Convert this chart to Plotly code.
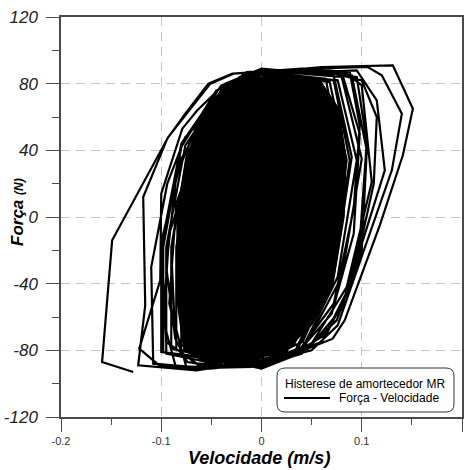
import plotly.graph_objects as go

# Force-velocity cycles of the MR damper: velocity (m/s), force (N)
# outer / irregular cycles
v01 = [-0.128, -0.159, -0.149, -0.093, -0.076, -0.051, -0.028, 0.040, 0.088, 0.098, 0.092, 0.072, 0.040, 0.000]
f01 = [-93, -87, -14, 48, 61, 80, 86, 89, 87, 55, 5, -52, -78, -88]
v02 = [-0.085, -0.098, -0.092, -0.070, -0.040, -0.012, 0.060, 0.131, 0.151, 0.141, 0.118, 0.083, 0.071, 0.021, -0.030]
f02 = [-91, -62, -10, 32, 70, 86, 90, 91, 65, 37, -5, -62, -73, -85, -90]
v03 = [-0.075, -0.092, -0.085, -0.055, -0.022, 0.050, 0.106, 0.120, 0.140, 0.130, 0.092, 0.076, 0.050, 0.005, -0.050]
f03 = [-90, -52, 8, 60, 84, 89, 90, 85, 62, 28, -38, -65, -80, -87, -91]
v04 = [-0.065, -0.123, -0.116, -0.118, -0.094, -0.076, -0.053, -0.029, 0.030, 0.085, 0.100, 0.110, 0.085, 0.050, 0.000]
f04 = [-92, -89, -53, 12, 47, 62, 80, 86, 88, 86, 79, 21, -42, -76, -88]
v05 = [-0.060, -0.102, -0.122, -0.101, -0.100, -0.079, -0.064, -0.040, 0.020, 0.095, 0.115, 0.123, 0.085, 0.060, 0.010]
f05 = [-91, -89, -79, -38, 14, 53, 64, 78, 86, 88, 70, 28, -45, -75, -86]
v06 = [-0.040, -0.074, -0.086, -0.090, -0.075, -0.050, -0.015, 0.050, 0.090, 0.105, 0.100, 0.075, 0.040, 0.000]
f06 = [-90, -87, -73, -20, 35, 70, 87, 89, 85, 40, -20, -62, -82, -89]
v07 = [-0.050, -0.108, -0.110, -0.094, -0.076, -0.053, -0.029, -0.015, 0.060, 0.095, 0.105, 0.098, 0.080, 0.045, 0.000]
f07 = [-91, -88, -30, 20, 48, 62, 80, 86, 87, 84, 45, -15, -55, -80, -89]
v08 = [-0.030, -0.074, -0.086, -0.095, -0.085, -0.062, -0.035, 0.020, 0.080, 0.098, 0.092, 0.070, 0.035, -0.005]
f08 = [-90, -87, -73, -30, 25, 58, 80, 88, 87, 50, -10, -58, -82, -89]
v09 = [-0.060, -0.095, -0.100, -0.080, -0.045, -0.010, 0.060, 0.100, 0.115, 0.112, 0.090, 0.065, 0.030, -0.010]
f09 = [-90, -75, -15, 35, 72, 86, 88, 82, 60, 20, -40, -70, -83, -89]

# steady cycles, largest to smallest
v11 = [-0.100, -0.100, -0.080, -0.040, 0, 0.080, 0.100, 0.080, 0.040, 0]
f11 = [-81, -18, 44, 79, 88, 84, 35, -36, -81, -90]
v12 = [-0.095, -0.095, -0.076, -0.038, 0, 0.076, 0.095, 0.076, 0.038, 0]
f12 = [-82, -18, 43, 77, 86, 82, 34, -36, -82, -91]
v13 = [-0.090, -0.090, -0.072, -0.036, 0, 0.072, 0.090, 0.072, 0.036, 0]
f13 = [-79, -18, 45, 80, 89, 85, 36, -35, -79, -88]
v14 = [-0.085, -0.085, -0.068, -0.034, 0, 0.068, 0.085, 0.068, 0.034, 0]
f14 = [-80, -18, 43, 77, 85, 81, 34, -36, -80, -89]
v15 = [-0.080, -0.080, -0.064, -0.032, 0, 0.064, 0.080, 0.064, 0.032, 0]
f15 = [-77, -17, 44, 78, 87, 83, 35, -34, -77, -86]
v16 = [-0.075, -0.075, -0.060, -0.030, 0, 0.060, 0.075, 0.060, 0.030, 0]
f16 = [-78, -17, 42, 75, 83, 79, 33, -35, -78, -87]
v17 = [-0.070, -0.070, -0.056, -0.028, 0, 0.056, 0.070, 0.056, 0.028, 0]
f17 = [-76, -17, 41, 73, 81, 77, 32, -34, -76, -84]
v18 = [-0.065, -0.065, -0.052, -0.026, 0, 0.052, 0.065, 0.052, 0.026, 0]
f18 = [-74, -16, 39, 70, 78, 74, 31, -33, -74, -82]
v19 = [-0.060, -0.060, -0.048, -0.024, 0, 0.048, 0.060, 0.048, 0.024, 0]
f19 = [-71, -16, 38, 68, 75, 71, 30, -32, -71, -79]
v20 = [-0.055, -0.055, -0.044, -0.022, 0, 0.044, 0.055, 0.044, 0.022, 0]
f20 = [-68, -15, 36, 65, 72, 68, 29, -30, -68, -76]
v21 = [-0.050, -0.050, -0.040, -0.020, 0, 0.040, 0.050, 0.040, 0.020, 0]
f21 = [-66, -15, 35, 62, 69, 66, 28, -29, -66, -73]
v22 = [-0.045, -0.045, -0.036, -0.018, 0, 0.036, 0.045, 0.036, 0.018, 0]
f22 = [-62, -14, 33, 59, 65, 62, 26, -28, -62, -69]
v23 = [-0.040, -0.040, -0.032, -0.016, 0, 0.032, 0.040, 0.032, 0.016, 0]
f23 = [-59, -13, 31, 55, 61, 58, 24, -26, -59, -65]
v24 = [-0.035, -0.035, -0.028, -0.014, 0, 0.028, 0.035, 0.028, 0.014, 0]
f24 = [-55, -12, 29, 51, 57, 54, 23, -24, -55, -61]
v25 = [-0.030, -0.030, -0.024, -0.012, 0, 0.024, 0.030, 0.024, 0.012, 0]
f25 = [-51, -11, 27, 48, 53, 50, 21, -23, -51, -57]
v26 = [-0.025, -0.025, -0.020, -0.010, 0, 0.020, 0.025, 0.020, 0.010, 0]
f26 = [-47, -10, 24, 43, 48, 46, 19, -21, -47, -52]
v27 = [-0.020, -0.020, -0.016, -0.008, 0, 0.016, 0.020, 0.016, 0.008, 0]
f27 = [-42, -9, 22, 39, 43, 41, 17, -19, -42, -47]
v28 = [-0.015, -0.015, -0.012, -0.006, 0, 0.012, 0.015, 0.012, 0.006, 0]
f28 = [-37, -8, 19, 33, 37, 35, 15, -16, -37, -41]
v29 = [-0.010, -0.010, -0.008, -0.004, 0, 0.008, 0.010, 0.008, 0.004, 0]
f29 = [-31, -7, 15, 27, 30, 29, 12, -14, -31, -34]
v30 = [-0.005, -0.005, -0.004, -0.002, 0, 0.004, 0.005, 0.004, 0.002, 0]
f30 = [-23, -5, 11, 20, 22, 21, 9, -10, -23, -25]

# steady cycles with a small velocity offset
v31 = [-0.098, -0.098, -0.080, -0.045, -0.010, 0.060, 0.078, 0.060, 0.025, -0.010]
f31 = [-81, -18, 42, 76, 84, 80, 34, -36, -81, -90]
v32 = [-0.068, -0.068, -0.052, -0.021, 0.010, 0.072, 0.088, 0.072, 0.041, 0.010]
f32 = [-75, -17, 43, 77, 86, 82, 34, -33, -75, -83]
v33 = [-0.073, -0.073, -0.059, -0.032, -0.005, 0.049, 0.063, 0.049, 0.022, -0.005]
f33 = [-77, -17, 40, 72, 80, 76, 32, -34, -77, -86]
v34 = [-0.053, -0.053, -0.041, -0.018, 0.005, 0.051, 0.063, 0.051, 0.028, 0.005]
f34 = [-68, -15, 38, 68, 76, 72, 30, -30, -68, -75]
v35 = [-0.053, -0.053, -0.043, -0.024, -0.005, 0.033, 0.043, 0.033, 0.014, -0.005]
f35 = [-65, -14, 34, 60, 67, 64, 27, -29, -65, -72]
v36 = [-0.033, -0.033, -0.025, -0.010, 0.005, 0.035, 0.043, 0.035, 0.020, 0.005]
f36 = [-56, -12, 30, 54, 60, 57, 24, -25, -56, -62]
v37 = [-0.028, -0.028, -0.022, -0.011, 0, 0.022, 0.028, 0.022, 0.011, 0]
f37 = [-50, -11, 26, 46, 51, 48, 20, -22, -50, -55]
v38 = [-0.018, -0.018, -0.014, -0.007, 0, 0.014, 0.018, 0.014, 0.007, 0]
f38 = [-40, -9, 20, 36, 40, 38, 16, -18, -40, -44]
v39 = [-0.012, -0.012, -0.010, -0.005, 0, 0.010, 0.012, 0.010, 0.005, 0]
f39 = [-33, -7, 17, 31, 34, 32, 14, -15, -33, -37]
v40 = [-0.008, -0.008, -0.006, -0.003, 0, 0.006, 0.008, 0.006, 0.003, 0]
f40 = [-27, -6, 13, 23, 26, 25, 10, -12, -27, -30]
v41 = [-0.003, -0.003, -0.002, -0.001, 0, 0.002, 0.003, 0.002, 0.001, 0]
f41 = [-14, -3, 7, 13, 14, 13, 6, -6, -14, -16]

# region where the overlapping cycles saturate to solid black
core_v = [-0.078, -0.085, -0.085, -0.076, -0.060, -0.040, -0.015, 0.020, 0.058, 0.078,
          0.085, 0.083, 0.072, 0.052, 0.025, -0.015, -0.055, -0.078]
core_f = [-80, -50, 0, 35, 60, 75, 83, 86, 83, 65,
          35, 0, -40, -64, -80, -87, -88, -80]

# axis ticks
x_tick_vals = [-0.2, -0.1, 0, 0.1, 0.2]
x_tick_text = ["-0.2", "-0.1", "0", "0.1", "0.2"]
x_minor_vals = [-0.15, -0.05, 0.05, 0.15]
y_tick_vals = [-120, -80, -40, 0, 40, 80, 120]
y_tick_text = ["-120", "-80", "-40", "0", "40", "80", "120"]
y_minor_vals = [-100, -60, -20, 20, 60, 100]

legend_title = "Histerese de amortecedor MR"
series_name = "Força - Velocidade"

# the recorded signal, cycle after cycle
cycles = [
    (v01, f01), (v11, f11), (v31, f31), (v02, f02), (v12, f12), (v13, f13),
    (v03, f03), (v32, f32), (v14, f14), (v08, f08), (v15, f15), (v04, f04),
    (v33, f33), (v16, f16), (v09, f09), (v17, f17), (v05, f05), (v18, f18),
    (v34, f34), (v19, f19), (v06, f06), (v20, f20), (v35, f35), (v21, f21),
    (v07, f07), (v22, f22), (v36, f36), (v23, f23), (v24, f24), (v37, f37),
    (v25, f25), (v26, f26), (v27, f27), (v38, f38), (v28, f28), (v39, f39),
    (v29, f29), (v40, f40), (v30, f30), (v41, f41),
]
velocity = [v for vs, _ in cycles for v in vs]
force = [f for _, fs in cycles for f in fs]

FONT = "Liberation Sans, Arial, sans-serif"

fig = go.Figure()
fig.add_trace(go.Scatter(
    x=core_v, y=core_f, mode="lines", fill="toself", fillcolor="black",
    line=dict(color="black", width=0), hoverinfo="skip", showlegend=False,
))
fig.add_trace(go.Scatter(
    x=velocity, y=force, mode="lines", name=series_name,
    line=dict(color="black", width=2.2), showlegend=False,
))

axis_common = dict(
    showline=True, linecolor="#4a4a4a", linewidth=1.5, mirror=True,
    ticks="outside", ticklen=13, tickwidth=1.3, tickcolor="#4a4a4a",
    showgrid=True, gridcolor="#c4c4c4", gridwidth=1.3, griddash="9px,6px",
    zeroline=False, tickmode="array", automargin=False,
)

fig.update_xaxes(
    range=[-0.2, 0.2], tickvals=x_tick_vals, ticktext=x_tick_text,
    tickfont=dict(family=FONT, size=11, color="#333"),
    ticklabelstandoff=0,
    minor=dict(tickmode="array", tickvals=x_minor_vals, ticks="outside",
               ticklen=6, tickwidth=1.3, tickcolor="#4a4a4a", showgrid=False),
    **axis_common,
)
fig.update_yaxes(
    range=[-120, 120], tickvals=y_tick_vals, ticktext=y_tick_text,
    tickfont=dict(family=FONT, size=17, color="#222", style="italic"),
    ticklabelstandoff=5,
    minor=dict(tickmode="array", tickvals=y_minor_vals, ticks="outside",
               ticklen=7, tickwidth=1.3, tickcolor="#4a4a4a", showgrid=False),
    **axis_common,
)

# paper-coordinate helpers for the legend box
W, H = 469, 470
ML, MR, MT, MB = 61, 7, 17, 53
PW, PH = W - ML - MR, H - MT - MB


def px(xp):
    return (xp - ML) / PW


def py(yp):
    return (H - MB - yp) / PH


x0, x1, y0, y1 = px(277), px(454), py(412), py(368)
rx, ry = 8 / PW, 8 / PH
box_path = (
    f"M {x0 + rx},{y0} L {x1 - rx},{y0} Q {x1},{y0} {x1},{y0 + ry} "
    f"L {x1},{y1 - ry} Q {x1},{y1} {x1 - rx},{y1} L {x0 + rx},{y1} "
    f"Q {x0},{y1} {x0},{y1 - ry} L {x0},{y0 + ry} Q {x0},{y0} {x0 + rx},{y0} Z"
)

fig.update_layout(
    width=W, height=H,
    margin=dict(l=ML, r=MR, t=MT, b=MB),
    paper_bgcolor="white", plot_bgcolor="white",
    font=dict(family=FONT, color="black"),
    shapes=[
        dict(type="path", xref="paper", yref="paper", path=box_path,
             fillcolor="white", line=dict(color="#333", width=1), layer="above"),
        dict(type="line", xref="paper", yref="paper",
             x0=px(284), x1=px(330), y0=py(398), y1=py(398),
             line=dict(color="black", width=2), layer="above"),
    ],
    annotations=[
        dict(text=legend_title, xref="paper", yref="paper", x=px(283), y=py(384),
             xanchor="left", yanchor="middle", showarrow=False,
             font=dict(family=FONT, size=12, color="black")),
        dict(text=series_name, xref="paper", yref="paper", x=px(337), y=py(398),
             xanchor="left", yanchor="middle", showarrow=False,
             font=dict(family=FONT, size=12, color="black")),
        dict(text="Velocidade (m/s)", xref="paper", yref="paper", x=px(259), y=py(458),
             xanchor="center", yanchor="middle", showarrow=False,
             font=dict(family=FONT, size=18, color="black", weight="bold", style="italic")),
        dict(text="Força <span style='font-size:12px'>(N)</span>", xref="paper", yref="paper",
             x=px(17), y=py(212), xanchor="center", yanchor="middle", showarrow=False,
             textangle=-90,
             font=dict(family=FONT, size=17, color="black", weight="bold", style="italic")),
    ],
)

fig.write_html("out.html")
